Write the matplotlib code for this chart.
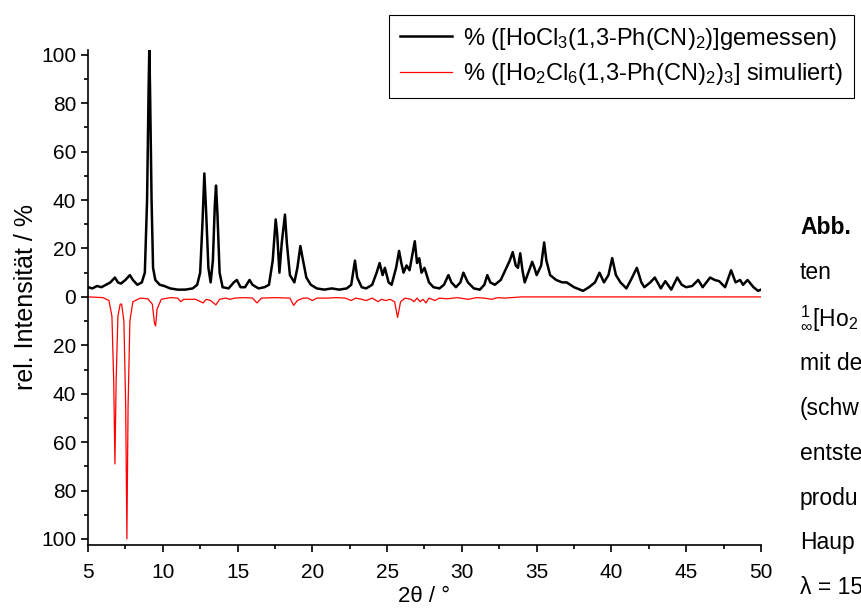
import matplotlib
matplotlib.use("Agg")
import matplotlib.pyplot as plt
import numpy as np
from matplotlib.ticker import MultipleLocator, FuncFormatter

plt.rcParams['font.family'] = ['Liberation Sans', 'DejaVu Sans']
plt.rcParams['mathtext.fontset'] = 'custom'
plt.rcParams['mathtext.rm'] = 'Liberation Sans'
plt.rcParams['mathtext.it'] = 'Liberation Sans:italic'
plt.rcParams['mathtext.bf'] = 'Liberation Sans:bold'

# gemessenes Pulverdiffraktogramm (2theta, rel. Intensitaet)
mess_x = [5.0, 5.3, 5.6, 5.9, 6.2, 6.5, 6.8, 7.0, 7.2, 7.5, 7.8, 8.0, 8.3, 8.6, 8.8,
          8.95, 9.05, 9.1, 9.15, 9.25, 9.35, 9.5, 9.8, 10.1, 10.5, 11.0, 11.5, 12.0,
          12.3, 12.5, 12.65, 12.78, 12.9, 13.05, 13.2, 13.35, 13.48, 13.56, 13.65,
          13.8, 14.0, 14.4, 14.75, 14.95, 15.2, 15.5, 15.8, 16.0, 16.4, 16.8, 17.1,
          17.35, 17.55, 17.65, 17.8, 17.95, 18.17, 18.3, 18.5, 18.8, 19.0, 19.2,
          19.35, 19.6, 19.9, 20.3, 20.8, 21.3, 21.8, 22.3, 22.6, 22.85, 23.0, 23.3,
          23.6, 24.0, 24.3, 24.5, 24.7, 24.85, 25.1, 25.3, 25.6, 25.8, 25.95, 26.1,
          26.3, 26.5, 26.7, 26.85, 27.0, 27.15, 27.3, 27.5, 27.8, 28.1, 28.5, 28.8,
          29.1, 29.3, 29.6, 29.9, 30.1, 30.4, 30.8, 31.2, 31.5, 31.7, 31.9, 32.2,
          32.6, 32.9, 33.2, 33.4, 33.6, 33.75, 33.9, 34.05, 34.2, 34.5, 34.7, 34.85,
          35.0, 35.3, 35.5, 35.65, 35.9, 36.3, 36.7, 37.0, 37.5, 38.1, 38.5, 38.9,
          39.2, 39.5, 39.8, 40.05, 40.3, 40.6, 41.0, 41.3, 41.7, 42.0, 42.2, 42.6,
          42.9, 43.3, 43.6, 44.0, 44.4, 44.7, 45.0, 45.4, 45.8, 46.1, 46.6, 46.9,
          47.2, 47.6, 48.0, 48.3, 48.6, 48.8, 49.1, 49.5, 49.8, 50.0]
mess_y = [4, 3.5, 4.5, 4, 5, 6, 8, 6, 5.5, 7, 9, 7, 5, 6, 10,
          40, 85, 103, 85, 40, 12, 7, 5, 4.5, 3.5, 3, 3, 3.5,
          5, 10, 30, 51, 35, 12, 6, 15, 38, 46, 35,
          10, 4, 3.5, 6, 7, 4, 4, 7, 5, 3.5, 4, 5,
          15, 32, 26, 10, 22, 34, 22, 9, 6, 12, 21,
          16, 8, 5, 3.5, 3, 3.5, 3, 3.5, 5, 15, 8, 4,
          3.5, 5, 10, 14, 9, 12, 6, 5, 12, 19, 14, 10,
          13, 11, 18, 23, 14, 16, 10, 12, 6, 4, 3.5, 5,
          9, 6, 4, 6, 10, 6, 3.5, 3, 5, 9, 6, 5,
          7, 11, 15, 18.5, 13, 12, 18, 11, 6, 11, 14.5, 12,
          9, 13, 22.5, 15, 9, 7, 6, 6, 4, 2.5, 4, 6,
          10, 6, 9, 16, 9, 6, 3.5, 7, 12, 6, 4, 6,
          8, 3.5, 6.5, 3, 8, 5, 4, 4.5, 7, 4, 8, 7,
          6.5, 4, 11, 6, 7, 5, 7, 4, 2.5, 3]

# simuliertes Diffraktogramm (nach unten aufgetragen)
sim_x = [5.0, 6.0, 6.4, 6.6, 6.72, 6.8, 6.88, 7.0, 7.15, 7.25, 7.4, 7.52, 7.6, 7.68,
         7.8, 8.0, 8.5, 9.0, 9.3, 9.45, 9.52, 9.62, 9.9, 10.5, 11.0, 11.2, 11.4,
         11.8, 12.2, 12.7, 12.9, 13.2, 13.55, 13.8, 14.2, 14.5, 14.8, 15.5, 16.0,
         16.3, 16.6, 17.5, 18.5, 18.75, 19.0, 19.4, 19.7, 20.0, 20.3, 21.0, 21.6,
         22.2, 22.6, 22.9, 23.3, 23.6, 24.0, 24.4, 24.6, 24.9, 25.2, 25.5, 25.7,
         25.9, 26.2, 26.6, 26.8, 27.0, 27.2, 27.4, 27.6, 27.8, 28.2, 28.5, 29.0,
         29.7, 30.4, 31.0, 31.5, 32.0, 32.4, 32.8, 33.3, 34.0, 50.0]
sim_y = [0, 0.3, 1.5, 8, 35, 69, 35, 8, 3, 3, 10, 45, 100, 45,
         10, 2, 0.5, 0.8, 3, 11, 12, 5, 1, 0.3, 0.5, 2, 1,
         1, 1, 2.5, 1, 1.5, 3.3, 1, 0.5, 1, 0.5, 0.3, 0.5,
         2.5, 0.5, 0.3, 0.5, 3.5, 1.5, 0.5, 0.5, 1.5, 0.5, 0.5, 0.3,
         0.5, 1.5, 0.5, 1, 1.5, 0.5, 2, 1, 1.5, 1, 2, 8.5,
         2, 0.5, 1, 2, 0.5, 2, 1, 2.5, 0.5, 1.5, 0.5, 0.8,
         0.3, 1, 0.3, 0.5, 1, 0.3, 0.5, 0.3, 0, 0]

label_mess = r'% ([HoCl$_3$(1,3-Ph(CN)$_2$)]gemessen)'
label_sim = r'% ([Ho$_2$Cl$_6$(1,3-Ph(CN)$_2$)$_3$] simuliert)'

fig = plt.figure(figsize=(8.62, 6.08), dpi=100)
ax = fig.add_axes([88 / 862, 63 / 608, 673 / 862, 495 / 608])

ax.plot(mess_x, mess_y, color='black', lw=1.8, label=label_mess)
ax.plot(sim_x, -np.array(sim_y), color='red', lw=0.9, label=label_sim)

ax.set_xlim(5, 50)
ax.set_ylim(-102.5, 102)
ax.xaxis.set_major_locator(MultipleLocator(5))
ax.xaxis.set_minor_locator(MultipleLocator(2.5))
ax.yaxis.set_major_locator(MultipleLocator(20))
ax.yaxis.set_minor_locator(MultipleLocator(10))
ax.yaxis.set_major_formatter(FuncFormatter(lambda v, p: '%d' % abs(round(v))))

for s in ['top', 'right']:
    ax.spines[s].set_visible(False)
for s in ['left', 'bottom']:
    ax.spines[s].set_linewidth(1.2)
ax.tick_params(which='major', direction='out', length=5, width=1.2, labelsize=15)
ax.tick_params(axis='x', which='major', pad=8)
ax.tick_params(which='minor', direction='out', length=3, width=1.2)

ax.set_xlabel('2θ / °', fontsize=16, labelpad=3)
ax.set_ylabel('rel. Intensität / %', fontsize=18, labelpad=2)

leg = ax.legend(loc='upper left', bbox_to_anchor=(389 / 862, 1 - 15 / 608),
                bbox_transform=fig.transFigure, fontsize=17, frameon=True,
                fancybox=False, edgecolor='black', framealpha=1, borderaxespad=0,
                handlelength=2.2, handletextpad=0.5, labelspacing=0.4, borderpad=0.45)
leg.get_frame().set_linewidth(0.8)

# abgeschnittener Fliesstext rechts (nur sichtbarer Teil)
zeilen = [('Abb.', 'bold', 228), ('ten', 'normal', 272),
          (r'$^1_\infty$[Ho$_2$', 'normal', 318),
          ('mit de', 'normal', 363), ('(schw', 'normal', 408),
          ('entste', 'normal', 453), ('produ', 'normal', 498),
          ('Haup', 'normal', 543), ('λ = 15', 'normal', 588)]
for txt, w, yy in zeilen:
    fig.text(800 / 862, 1 - yy / 608, txt, fontsize=16.5, fontweight=w, va='center', ha='left')

fig.savefig('out.png', dpi=100)
